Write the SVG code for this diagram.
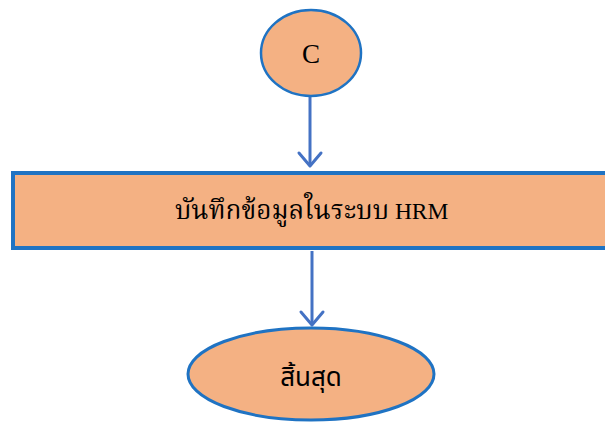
<svg xmlns="http://www.w3.org/2000/svg" width="605" height="425" viewBox="0 0 605 425">
  <defs>
    <style>
      .shape { fill: #F4B183; stroke: #1F73C3; }
      .conn { stroke: #4472C4; stroke-width: 3; fill: none; }
      .head { stroke: #4472C4; stroke-width: 3; fill: none; stroke-linecap: round; stroke-linejoin: round; }
      .serif { font-family: "Liberation Serif", "Noto Serif Thai", "DejaVu Serif", serif; fill: #000; }
      .sans { font-family: "Noto Sans Thai", "Noto Sans", "DejaVu Sans", sans-serif; fill: #000; }
    </style>
  </defs>
  <rect width="605" height="425" fill="#FFFFFF"/>

  <g id="connectors">
    <line class="conn" x1="310" y1="97" x2="310" y2="166"/>
    <polyline class="head" points="299,153 310,166 321,153"/>
    <line class="conn" x1="312" y1="251" x2="312" y2="325"/>
    <polyline class="head" points="301,312 312,325 323,312"/>
  </g>

  <g id="node-c">
    <ellipse class="shape" cx="311" cy="53" rx="50" ry="43" stroke-width="2.5"/>
    <text class="serif" x="311" y="63" font-size="27" text-anchor="middle">C</text>
  </g>

  <g id="node-record">
    <rect class="shape" x="13" y="173" width="600" height="75" stroke-width="4"/>
    <text class="serif" x="175" y="219" font-size="23.5"><tspan font-size="26" textLength="214" lengthAdjust="spacingAndGlyphs">บันทึกข้อมูลในระบบ</tspan> HRM</text>
  </g>

  <g id="node-end">
    <ellipse class="shape" cx="311" cy="374" rx="123" ry="46" stroke-width="3"/>
    <text class="sans" x="311" y="386" font-size="26" text-anchor="middle">สิ้นสุด</text>
  </g>
</svg>
